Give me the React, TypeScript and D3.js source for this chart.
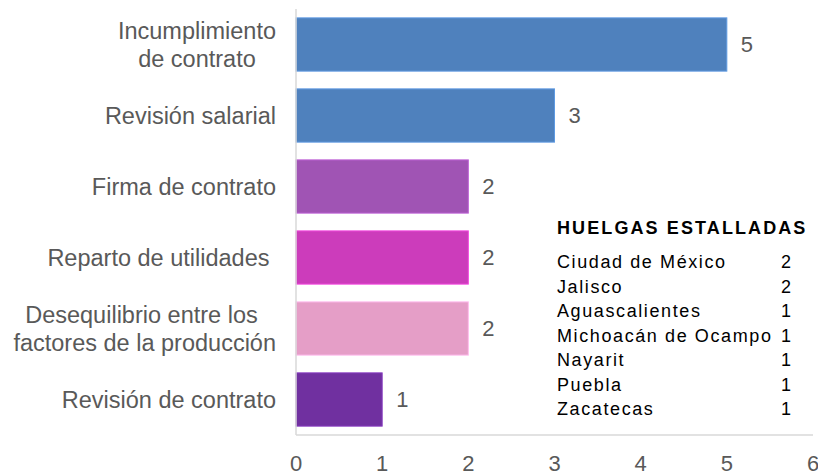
import React, { useEffect, useRef } from 'react';
import * as d3 from 'd3';

const width = 818;
const height = 476;
const margin = { top: 9, right: 5, bottom: 41, left: 296 };

// categories (top to bottom), each split into label lines
const categories = [
  'Incumplimiento|de contrato',
  'Revisión salarial',
  'Firma de contrato',
  'Reparto de utilidades ',
  'Desequilibrio entre los |factores de la producción',
  'Revisión de contrato',
];
const values = [5, 3, 2, 2, 2, 1];
const colors = ['#4f81bd', '#4f81bd', '#a054b4', '#cc3cbb', '#e59ec7', '#7030a0'];
const xTicks = [0, 1, 2, 3, 4, 5, 6];

const legendTitle = 'HUELGAS ESTALLADAS';
const states = [
  'Ciudad de México',
  'Jalisco',
  'Aguascalientes',
  'Michoacán de Ocampo',
  'Nayarit',
  'Puebla',
  'Zacatecas',
];
const stateCounts = [2, 2, 1, 1, 1, 1, 1];

const font = '"Liberation Sans", Arial, sans-serif';
const gray = '#595959';

export default function App() {
  const ref = useRef<SVGSVGElement>(null);

  useEffect(() => {
    const svg = d3.select(ref.current);
    svg.selectAll('*').remove();

    const x = d3
      .scaleLinear()
      .domain([0, 6])
      .range([margin.left, width - margin.right]);

    const y = d3
      .scaleBand()
      .domain(categories)
      .range([margin.top, height - margin.bottom])
      .paddingInner(0.25)
      .paddingOuter(0.125);

    // bars
    svg
      .append('g')
      .selectAll('rect')
      .data(categories)
      .join('rect')
      .attr('x', x(0))
      .attr('y', d => y(d)!)
      .attr('width', (d, i) => x(values[i]) - x(0))
      .attr('height', y.bandwidth())
      .attr('fill', (d, i) => colors[i])
      .attr('stroke', (d, i) => d3.color(colors[i])!.brighter(0.5).toString())
      .attr('stroke-width', 1);

    // axis lines
    svg
      .append('line')
      .attr('x1', x(0))
      .attr('x2', x(0))
      .attr('y1', margin.top)
      .attr('y2', height - margin.bottom)
      .attr('stroke', '#d9d9d9')
      .attr('stroke-width', 1.5);
    svg
      .append('line')
      .attr('x1', x(0))
      .attr('x2', x(6))
      .attr('y1', height - margin.bottom)
      .attr('y2', height - margin.bottom)
      .attr('stroke', '#d9d9d9')
      .attr('stroke-width', 1.5);

    // x tick labels
    svg
      .append('g')
      .selectAll('text')
      .data(xTicks)
      .join('text')
      .attr('x', d => x(d))
      .attr('y', 471)
      .attr('text-anchor', 'middle')
      .attr('font-family', font)
      .attr('font-size', 22)
      .attr('fill', gray)
      .text(d => d);

    // value labels
    svg
      .append('g')
      .selectAll('text')
      .data(categories)
      .join('text')
      .attr('x', (d, i) => x(values[i]) + 14)
      .attr('y', d => y(d)! + y.bandwidth() / 2)
      .attr('dy', '0.35em')
      .attr('font-family', font)
      .attr('font-size', 22)
      .attr('fill', gray)
      .text((d, i) => values[i]);

    // category labels: block right-aligned, lines centered in block
    const labelRight = 276;
    const lineH = 28;
    categories.forEach(cat => {
      const lines = cat.split('|');
      const g = svg.append('g');
      const texts = lines.map((ln, j) =>
        g
          .append('text')
          .attr('font-family', font)
          .attr('font-size', 23.5)
          .attr('fill', gray)
          .attr('text-anchor', 'middle')
          .style('white-space', 'pre')
          .attr('y', y(cat)! + y.bandwidth() / 2 + (j - (lines.length - 1) / 2) * lineH)
          .attr('dy', '0.36em')
          .text(ln)
      );
      const maxW = d3.max(texts, t => (t.node() as SVGTextElement).getComputedTextLength()) || 0;
      texts.forEach(t => t.attr('x', labelRight - maxW / 2));
    });

    // legend table
    const lg = svg.append('g');
    lg.append('text')
      .attr('x', 557)
      .attr('y', 234)
      .attr('font-family', font)
      .attr('font-size', 18)
      .attr('font-weight', 'bold')
      .attr('letter-spacing', 2.1)
      .attr('fill', '#000')
      .text(legendTitle);
    const rowY = d3
      .scalePoint()
      .domain(states)
      .range([268, 415]);
    lg.selectAll('text.st')
      .data(states)
      .join('text')
      .attr('class', 'st')
      .attr('x', 557)
      .attr('y', d => rowY(d)!)
      .attr('font-family', font)
      .attr('font-size', 18)
      .attr('letter-spacing', 1.6)
      .attr('fill', '#000')
      .text(d => d);
    lg.selectAll('text.ct')
      .data(states)
      .join('text')
      .attr('class', 'ct')
      .attr('x', 791)
      .attr('y', d => rowY(d)!)
      .attr('text-anchor', 'end')
      .attr('font-family', font)
      .attr('font-size', 18)
      .attr('fill', '#000')
      .text((d, i) => stateCounts[i]);
  }, []);

  return (
    <svg
      ref={ref}
      width={width}
      height={height}
      style={{ position: 'absolute', left: 0, top: 0, background: '#fff' }}
    />
  );
}
